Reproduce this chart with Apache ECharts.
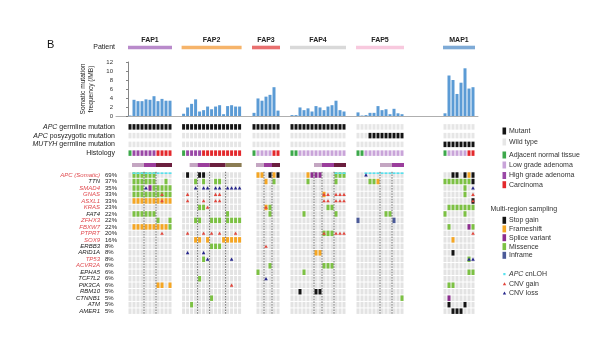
<!DOCTYPE html>
<html><head><meta charset="utf-8">
<script src="https://cdn.jsdelivr.net/npm/echarts@6/dist/echarts.min.js"></script>
<style>html,body{margin:0;padding:0;background:#fff}#c{width:614px;height:345px}</style>
</head><body><div id="c"></div>
<script>
// ---------------- DATA ----------------
const patients = ['FAP1','FAP2','FAP3','FAP4','FAP5','MAP1'];
const patientColors = ['#b98acb','#f6b46a','#e9706f','#d9d9d9','#f8c9de','#7eaad6'];

const burdenFAP1 = [0.1,3.6,3.3,3.3,3.7,3.6,4.4,3.3,3.8,3.4,3.4];
const burdenFAP2 = [0.5,1.9,2.7,3.7,1.0,1.3,2.1,1.5,2.1,2.4,0.4,2.2,2.4,2.1,2.1];
const burdenFAP3 = [0.7,3.9,3.4,4.3,4.7,6.4,1.2];
const burdenFAP4 = [0.2,0.2,1.9,1.3,1.7,1.0,2.2,1.9,1.3,2.1,2.4,3.4,1.3,1.0];
const burdenFAP5 = [0.8,0.1,0.2,0.7,0.7,2.2,1.3,1.5,0.4,1.6,0.6,0.4];
const burdenMAP1 = [0.6,9.0,8.0,4.9,7.4,10.6,6.1,6.4];

const apcGermline    = ['11111111111','111111111111111','1111111','11111111111111','000000000000','00000000'];
const apcPostzygotic = ['00000000000','000000000000000','0000000','00000000000000','000111111111','00000000'];
const mutyhGermline  = ['00000000000','000000000000000','0000000','00000000000000','000000000000','11111111'];
const histology      = ['NHHHHHHCCCC','NHHHHCCCCCCCCCC','NLLLLCC','NNLLLLLLLLLLLL','NNLLLLLLLLLL','NLLLLLCC'];

const genes = ['APC (Somatic)','TTN','SMAD4','GNAS','ASXL1','KRAS','FAT4','ZFHX3','FBXW7','PTPRT','SOX9','ERBB3','ARID1A','TP53','ACVR2A','EPHA5','TCF7L2','PIK3CA','RBM10','CTNNB1','ATM','AMER1'];
const genePct = [69,37,35,33,33,23,22,22,22,20,16,8,8,8,6,6,6,6,5,5,5,5];
const redGenes = ['APC (Somatic)','SMAD4','GNAS','ASXL1','KRAS','ZFHX3','FBXW7','PTPRT','SOX9','TP53','ACVR2A'];

// [gene, type, columns]  S stop gain, F frameshift, P splice, M missense, I inframe, G CNV gain, L CNV loss, C APC cnLOH
const mutFAP1 = [
 ['APC (Somatic)','M',[1,2,3,4,5,6]], ['APC (Somatic)','C',[1,2,3,4,5,6,7,8,9,10]],
 ['TTN','M',[1,2,3,4,5,6,9]],
 ['SMAD4','M',[1,2,3,6,7,8,9,10]], ['SMAD4','L',[4]], ['SMAD4','P',[5]],
 ['GNAS','M',[1,2,3,4,5,6,7,8,9,10]], ['GNAS','G',[8]],
 ['ASXL1','F',[1,2,3,4,5,6,7,8,9,10]], ['ASXL1','G',[8]],
 ['FAT4','M',[1,2,3,4,5,6]],
 ['ZFHX3','M',[7,10]],
 ['FBXW7','F',[1,2,3,4,5,6,7,8,9]], ['FBXW7','M',[10]],
 ['PTPRT','G',[8]],
 ['PIK3CA','F',[7,8,10]]
];
const mutFAP2 = [
 ['APC (Somatic)','S',[1,4,5]],
 ['TTN','M',[3,5,8,9]],
 ['SMAD4','L',[3,5,6,8,9,11,12,13,14]],
 ['GNAS','G',[1,8,9]],
 ['ASXL1','G',[1,5,8,9]],
 ['KRAS','M',[4,5]], ['KRAS','G',[6]],
 ['FAT4','M',[11]],
 ['ZFHX3','M',[3,4,7,8,9,11,12,13,14]],
 ['PTPRT','G',[1,5,7,9,13]],
 ['SOX9','F',[3,4,6,10,11,12,13,14]],
 ['ERBB3','M',[7,8,9]],
 ['ARID1A','L',[1,5]],
 ['TP53','M',[5]], ['TP53','L',[6,12]],
 ['TCF7L2','M',[4]],
 ['PIK3CA','G',[12]],
 ['CTNNB1','M',[7]],
 ['ATM','M',[2]]
];
const mutFAP3 = [
 ['APC (Somatic)','F',[1,2,5]], ['APC (Somatic)','S',[4,6]],
 ['TTN','F',[3]], ['TTN','M',[5]],
 ['KRAS','F',[3]], ['KRAS','G',[3]], ['KRAS','M',[4]],
 ['FAT4','M',[4]],
 ['ERBB3','G',[3]],
 ['ACVR2A','M',[4]],
 ['EPHA5','M',[1]],
 ['TCF7L2','L',[3]]
];
const mutFAP4 = [
 ['APC (Somatic)','F',[4]], ['APC (Somatic)','P',[5,6,7]], ['APC (Somatic)','M',[11,12,13]], ['APC (Somatic)','C',[11,12,13]],
 ['TTN','M',[4,11]],
 ['GNAS','F',[8]], ['GNAS','G',[8,9,11,12,13]],
 ['ASXL1','G',[8,9,11,12,13]],
 ['KRAS','M',[9,10]],
 ['FAT4','M',[3,11]],
 ['PTPRT','M',[8,9,10]], ['PTPRT','G',[8,11,12,13]],
 ['ARID1A','F',[6,7]],
 ['ACVR2A','M',[8,9,10]],
 ['EPHA5','M',[3]],
 ['RBM10','S',[2,6,7]]
];
const mutFAP5 = [
 ['APC (Somatic)','L',[2]], ['APC (Somatic)','C',[2,3,4,5,6,7,8,9,10,11]],
 ['TTN','M',[3,4]], ['TTN','F',[5]],
 ['FAT4','M',[7,8]],
 ['ZFHX3','I',[0,9]],
 ['CTNNB1','M',[11]]
];
const mutMAP1 = [
 ['APC (Somatic)','S',[2,3,5,7]], ['APC (Somatic)','F',[6]],
 ['TTN','M',[0,1,2,3,4,5,6]], ['TTN','S',[7]],
 ['SMAD4','M',[5]], ['SMAD4','L',[7]],
 ['GNAS','M',[5]], ['GNAS','G',[7]],
 ['ASXL1','S',[7]], ['ASXL1','G',[7]],
 ['KRAS','M',[1,2,3,4,5,6,7]],
 ['FAT4','M',[0,5]],
 ['FBXW7','M',[1,7]], ['FBXW7','P',[6]],
 ['PTPRT','G',[7]],
 ['SOX9','F',[2]],
 ['ARID1A','S',[2]],
 ['TP53','M',[6]], ['TP53','L',[6,7]],
 ['EPHA5','M',[6,7]],
 ['PIK3CA','M',[1,2]],
 ['CTNNB1','P',[1]],
 ['ATM','S',[1,5]],
 ['AMER1','S',[2,3,4]]
];

// ---------------- LAYOUT ----------------
const patientStart = [0, 13.4, 31, 40.5, 57, 78.75];
const gridFirstCol = [0, 0, 1, 0, 0, 0];
const samplingSegs = [
 [[1,4,0],[4,7,1],[7,11,2]],
 [[2,4,0],[4,7,1],[7,11,2],[11,15,3]],
 [[1,3,0],[3,5,1],[5,7,2]],
 [[6,8,0],[8,11,1],[11,14,2]],
 [[6,9,0],[9,12,1]],
 []
];
const dashedCols = [[4,7],[4,7,11],[3,5],[6,8,11],[6,9],[]];

const FONT = "'Liberation Sans', Arial, Helvetica, sans-serif";
const C = {
  S:'#141414', F:'#f5a623', P:'#8c2d8f', M:'#7cc143', I:'#4b5a98',
  G:'#e2463c', L:'#25258c', LOH:'#55e2ef',
  bg:'#e3e3e3', wild:'#e6e6e6', mut:'#141414',
  N:'#3da84b', L_h:'#c9a4d9', H:'#9a48a6', Ca:'#e3282c',
  bar:'#5b9bd5'
};
const histColor = {N:C.N, L:C.L_h, H:C.H, C:C.Ca};
const sampColors = ['#c4a6c2','#9b3e9c','#6b1f3e','#8b7c53'];
const burdens = [burdenFAP1,burdenFAP2,burdenFAP3,burdenFAP4,burdenFAP5,burdenMAP1];
const mutations = [mutFAP1,mutFAP2,mutFAP3,mutFAP4,mutFAP5,mutMAP1];

// ---------------- BUILD ----------------
const barData=[], headData=[], upperData=[], sampData=[], bgData=[], cellData=[], lohData=[], triData=[], dashData=[];
patients.forEach((p, pi) => {
  const st = patientStart[pi], n = histology[pi].length;
  headData.push([st, 0, st + n]);
  burdens[pi].forEach((v, c) => barData.push([st + c + 0.5, v]));
  for (let c = 0; c < n; c++) {
    const x = st + c + 0.5;
    upperData.push({value:[x,0], itemStyle:{color: apcGermline[pi][c]==='1'?C.mut:C.wild}});
    upperData.push({value:[x,1], itemStyle:{color: apcPostzygotic[pi][c]==='1'?C.mut:C.wild}});
    upperData.push({value:[x,2], itemStyle:{color: mutyhGermline[pi][c]==='1'?C.mut:C.wild}});
    upperData.push({value:[x,3], itemStyle:{color: histColor[histology[pi][c]]}});
  }
  samplingSegs[pi].forEach(s => sampData.push({value:[st+s[0], 0, st+s[1]], itemStyle:{color: sampColors[s[2]]}}));
  dashedCols[pi].forEach(d => dashData.push([st + d, 0]));
  for (let c = gridFirstCol[pi]; c < n; c++)
    for (let g = 0; g < genes.length; g++) bgData.push([st + c + 0.5, g]);
  mutations[pi].forEach(([gene, type, cols]) => {
    const g = genes.indexOf(gene);
    cols.forEach(c => {
      const x = st + c + 0.5;
      if ('SFPMI'.includes(type)) cellData.push({value:[x,g], itemStyle:{color:C[type]}});
      else if (type === 'C') lohData.push([x,g]);
      else triData.push({value:[x,g], itemStyle:{color:C[type]}});
    });
  });
});

const X_MIN = -3, X_MAX = 87.5, LEFT = 116, W = (X_MAX - X_MIN) * 4;
function xa(gi, show) {
  return {type:'value', gridIndex:gi, min:X_MIN, max:X_MAX, show:!!show,
    axisLine:{show:true, onZero:false, lineStyle:{color:'#9a9a9a', width:0.8}}, axisTick:{show:false},
    axisLabel:{show:false}, splitLine:{show:false}};
}
const noAxis = {axisLine:{show:false}, axisTick:{show:false}, splitLine:{show:false}};

function cellRender(hFix) {
  return function(params, api) {
    const c = api.coord([api.value(0), api.value(1)]);
    const s = api.size([1, 1]);
    const w = s[0] - 1, h = hFix || (s[1] - 1);
    return {type:'rect', shape:{x:c[0]-w/2, y:c[1]-h/2, width:w, height:h}, style:{fill: api.visual('color') || C.bg}};
  };
}

const option = {
  backgroundColor:'#fff',
  animation:false,
  textStyle:{fontFamily:FONT},
  grid:[
    {left:LEFT, width:W, top:45.5, height:4},
    {left:LEFT, width:W, top:62, height:54},
    {left:LEFT, width:W, top:122.5, height:35},
    {left:LEFT, width:W, top:163, height:4},
    {left:LEFT, width:W, top:171.8, height:142.6}
  ],
  xAxis:[xa(0), xa(1, true), xa(2), xa(3), xa(4)],
  yAxis:[
    Object.assign({type:'category', gridIndex:0, data:['Patient'],
      axisLabel:{fontSize:7, color:'#222', margin:1, fontFamily:FONT}}, noAxis),
    {type:'value', gridIndex:1, min:0, max:12, interval:2,
      name:'Somatic mutation\nfrequency (/MB)', nameLocation:'middle', nameGap:12,
      nameTextStyle:{fontSize:6.6, color:'#222', lineHeight:8, fontFamily:FONT},
      axisLine:{show:true, lineStyle:{color:'#666', width:0.8}},
      axisTick:{show:true, length:2, lineStyle:{color:'#666', width:0.8}},
      axisLabel:{fontSize:6, color:'#333', margin:3, fontFamily:FONT}, splitLine:{show:false}},
    Object.assign({type:'category', gridIndex:2, inverse:true,
      data:['APC germline mutation','APC posyzygotic mutation','MUTYH germline mutation','Histology'],
      axisLabel:{interval:0, fontSize:7, color:'#222', margin:1, fontFamily:FONT,
        formatter:v => v.replace(/^(APC|MUTYH) /, '{i|$1} '),
        rich:{i:{fontStyle:'italic', fontSize:7, color:'#222', fontFamily:FONT}}}}, noAxis),
    Object.assign({type:'category', gridIndex:3, data:['s'], axisLabel:{show:false}}, noAxis),
    Object.assign({type:'category', gridIndex:4, inverse:true, data:genes, position:'left', offset:14,
      axisLabel:{interval:0, margin:2, fontSize:6, fontStyle:'italic', fontFamily:FONT,
        formatter:v => (redGenes.includes(v) ? '{r|' : '{k|') + v + '}',
        rich:{r:{color:'#e04a4f', fontStyle:'italic', fontSize:6, fontFamily:FONT},
              k:{color:'#222', fontStyle:'italic', fontSize:6, fontFamily:FONT}}}}, noAxis),
    Object.assign({type:'category', gridIndex:4, inverse:true, data:genes, position:'left', offset:0,
      axisLabel:{interval:0, margin:11, align:'left', fontSize:6, color:'#222', fontFamily:FONT,
        formatter:(v, i) => genePct[i] + '%'}}, noAxis)
  ],
  series:[
    {type:'custom', xAxisIndex:0, yAxisIndex:0, data:headData,
      renderItem:(params, api) => {
        const a = api.coord([api.value(0), 0]), b = api.coord([api.value(2), 0]);
        return {type:'group', children:[
          {type:'rect', shape:{x:a[0], y:a[1]-1.8, width:b[0]-a[0], height:3.6}, style:{fill:patientColors[params.dataIndex]}},
          {type:'text', style:{text:patients[params.dataIndex], x:(a[0]+b[0])/2, y:a[1]-4,
            textAlign:'center', textVerticalAlign:'bottom', align:'center', verticalAlign:'bottom',
            fill:'#222', font:'bold 7px ' + FONT}}
        ]};
      }},
    {type:'bar', xAxisIndex:1, yAxisIndex:1, data:barData, barWidth:3, itemStyle:{color:C.bar}},
    {type:'custom', xAxisIndex:2, yAxisIndex:2, data:upperData, renderItem:cellRender(5.5)},
    {type:'custom', xAxisIndex:3, yAxisIndex:3, data:sampData,
      renderItem:(params, api) => {
        const a = api.coord([api.value(0), 0]), b = api.coord([api.value(2), 0]);
        return {type:'rect', shape:{x:a[0], y:a[1]-2, width:b[0]-a[0], height:4}, style:{fill:api.visual('color')}};
      }},
    {type:'custom', xAxisIndex:4, yAxisIndex:4, data:bgData, itemStyle:{color:C.bg}, renderItem:cellRender()},
    {type:'custom', xAxisIndex:4, yAxisIndex:4, data:cellData, renderItem:cellRender()},
    {type:'custom', xAxisIndex:4, yAxisIndex:4, data:lohData,
      renderItem:(params, api) => {
        const c = api.coord([api.value(0), api.value(1)]), s = api.size([1,1]);
        return {type:'rect', shape:{x:c[0]-s[0]/2+0.5, y:c[1]-s[1]/2+0.6, width:s[0]-1, height:1.6}, style:{fill:C.LOH}};
      }},
    {type:'custom', xAxisIndex:4, yAxisIndex:4, data:dashData,
      renderItem:(params, api) => {
        const c = api.coord([api.value(0), 0]); const cs = params.coordSys;
        return {type:'line', shape:{x1:c[0], y1:cs.y, x2:c[0], y2:cs.y+cs.height},
          style:{stroke:'#4a4a4a', lineWidth:0.8, lineDash:[1.5,1.2]}};
      }},
    {type:'custom', xAxisIndex:4, yAxisIndex:4, data:triData,
      renderItem:(params, api) => {
        const c = api.coord([api.value(0), api.value(1)]);
        return {type:'polygon', shape:{points:[[c[0]-1.8,c[1]+1.4],[c[0]+1.8,c[1]+1.4],[c[0],c[1]-1.7]]},
          style:{fill:api.visual('color')}};
      }}
  ],
  graphic: []
};

// ---------------- LEGEND (static key) ----------------
const g = [];
g.push({type:'text', x:47, y:45, style:{text:'B', font:'11px ' + FONT, fill:'#111', verticalAlign:'middle', textVerticalAlign:'middle'}});
function key(color, label, y, rich) {
  g.push({type:'rect', shape:{x:502.5, y:y-3.5, width:3.6, height:7}, style:{fill:color}});
  g.push({type:'text', x:509, y:y, style:{text:label, font:'7px ' + FONT, fill:'#333', verticalAlign:'middle', textVerticalAlign:'middle', rich:rich}});
}
key(C.mut, 'Mutant', 131);
key(C.wild, 'Wild type', 142);
key(C.N, 'Adjacent normal tissue', 155);
key(C.L_h, 'Low grade adenoma', 165);
key(C.H, 'High grade adenoma', 175.5);
key(C.Ca, 'Carcinoma', 184.7);
g.push({type:'text', x:490.5, y:209.3, style:{text:'Multi-region sampling', font:'7px ' + FONT, fill:'#333', verticalAlign:'middle', textVerticalAlign:'middle'}});
key(C.S, 'Stop gain', 220.3);
key(C.F, 'Frameshift', 228.9);
key(C.P, 'Splice variant', 237.7);
key(C.M, 'Missence', 246.6);
key(C.I, 'Inframe', 255.3);
g.push({type:'rect', shape:{x:503.3, y:273, width:2.2, height:2.2}, style:{fill:C.LOH}});
g.push({type:'text', x:509, y:274, style:{text:'{i|APC} cnLOH', font:'7px ' + FONT, fill:'#333', verticalAlign:'middle', textVerticalAlign:'middle',
  rich:{i:{fontStyle:'italic', fontSize:7, fill:'#333', color:'#333', fontFamily:FONT}}}});
g.push({type:'polygon', shape:{points:[[502.8,285.3],[506.2,285.3],[504.5,282.2]]}, style:{fill:C.G}});
g.push({type:'text', x:509, y:284, style:{text:'CNV gain', font:'7px ' + FONT, fill:'#333', verticalAlign:'middle', textVerticalAlign:'middle'}});
g.push({type:'polygon', shape:{points:[[502.8,294.6],[506.2,294.6],[504.5,291.5]]}, style:{fill:C.L}});
g.push({type:'text', x:509, y:293.3, style:{text:'CNV loss', font:'7px ' + FONT, fill:'#333', verticalAlign:'middle', textVerticalAlign:'middle'}});
option.graphic = g;

const chart = echarts.init(document.getElementById('c'));
chart.setOption(option);
</script>
</body></html>
